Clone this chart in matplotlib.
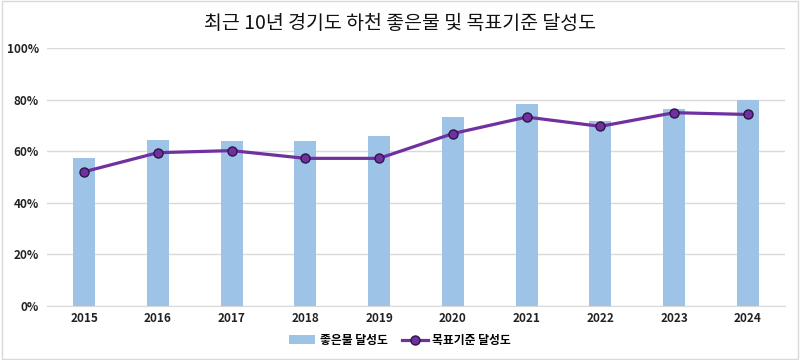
import matplotlib.pyplot as plt
import numpy as np
from matplotlib.ticker import FuncFormatter

plt.rcParams['font.family'] = ['Noto Sans CJK KR', 'DejaVu Sans']

years = ['2015', '2016', '2017', '2018', '2019', '2020', '2021', '2022', '2023', '2024']
good_water = [57.5, 64.2, 64.1, 64.1, 65.7, 73.3, 78.2, 71.5, 76.5, 79.8]
target_rate = [52.0, 59.4, 60.2, 57.2, 57.2, 66.8, 73.2, 69.6, 74.9, 74.2]

fig = plt.figure(figsize=(8, 3.6), dpi=100)
ax = fig.add_axes([0.059, 0.15, 0.922, 0.717])

x = np.arange(len(years))
bars = ax.bar(x, good_water, width=0.3, color='#9dc3e6', label='좋은물 달성도', zorder=2)
line, = ax.plot(x, target_rate, color='#7030a0', lw=2.3, marker='o', ms=6.5,
                mfc='#7030a0', mec='#2e1446', mew=1.0, label='목표기준 달성도', zorder=3)

ax.set_xlim(-0.5, len(years) - 0.5)
ax.set_ylim(0, 100)
ax.set_yticks([0, 20, 40, 60, 80, 100])
ax.yaxis.set_major_formatter(FuncFormatter(lambda v, p: f'{int(v)}%'))
ax.set_xticks(x)
ax.set_xticklabels(years)
for lab in ax.get_xticklabels() + ax.get_yticklabels():
    lab.set_fontweight('bold')
    lab.set_fontsize(8.5)
    lab.set_color('#222222')
ax.tick_params(axis='x', length=0, pad=4)
ax.tick_params(axis='y', length=0, pad=6)
ax.grid(axis='y', color='#d9d9d9', lw=1, zorder=0)
for s in ['top', 'right', 'left']:
    ax.spines[s].set_visible(False)
ax.spines['bottom'].set_color('#d9d9d9')

fig.suptitle('최근 10년 경기도 하천 좋은물 및 목표기준 달성도', y=0.965, fontsize=14, color='#111111')

fig.legend([bars, line], ['좋은물 달성도', '목표기준 달성도'], loc='center',
           bbox_to_anchor=(0.5, 0.055), ncol=2, frameon=False,
           prop={'weight': 'bold', 'size': 8.5}, handlelength=2.2, columnspacing=1.2,
           handletextpad=0.4)

# light outer border
fig.patches.append(plt.Rectangle((0.002, 0.003), 0.996, 0.994, transform=fig.transFigure,
                                 fill=False, edgecolor='#d9d9d9', lw=1))

fig.savefig('out.png', dpi=100)
